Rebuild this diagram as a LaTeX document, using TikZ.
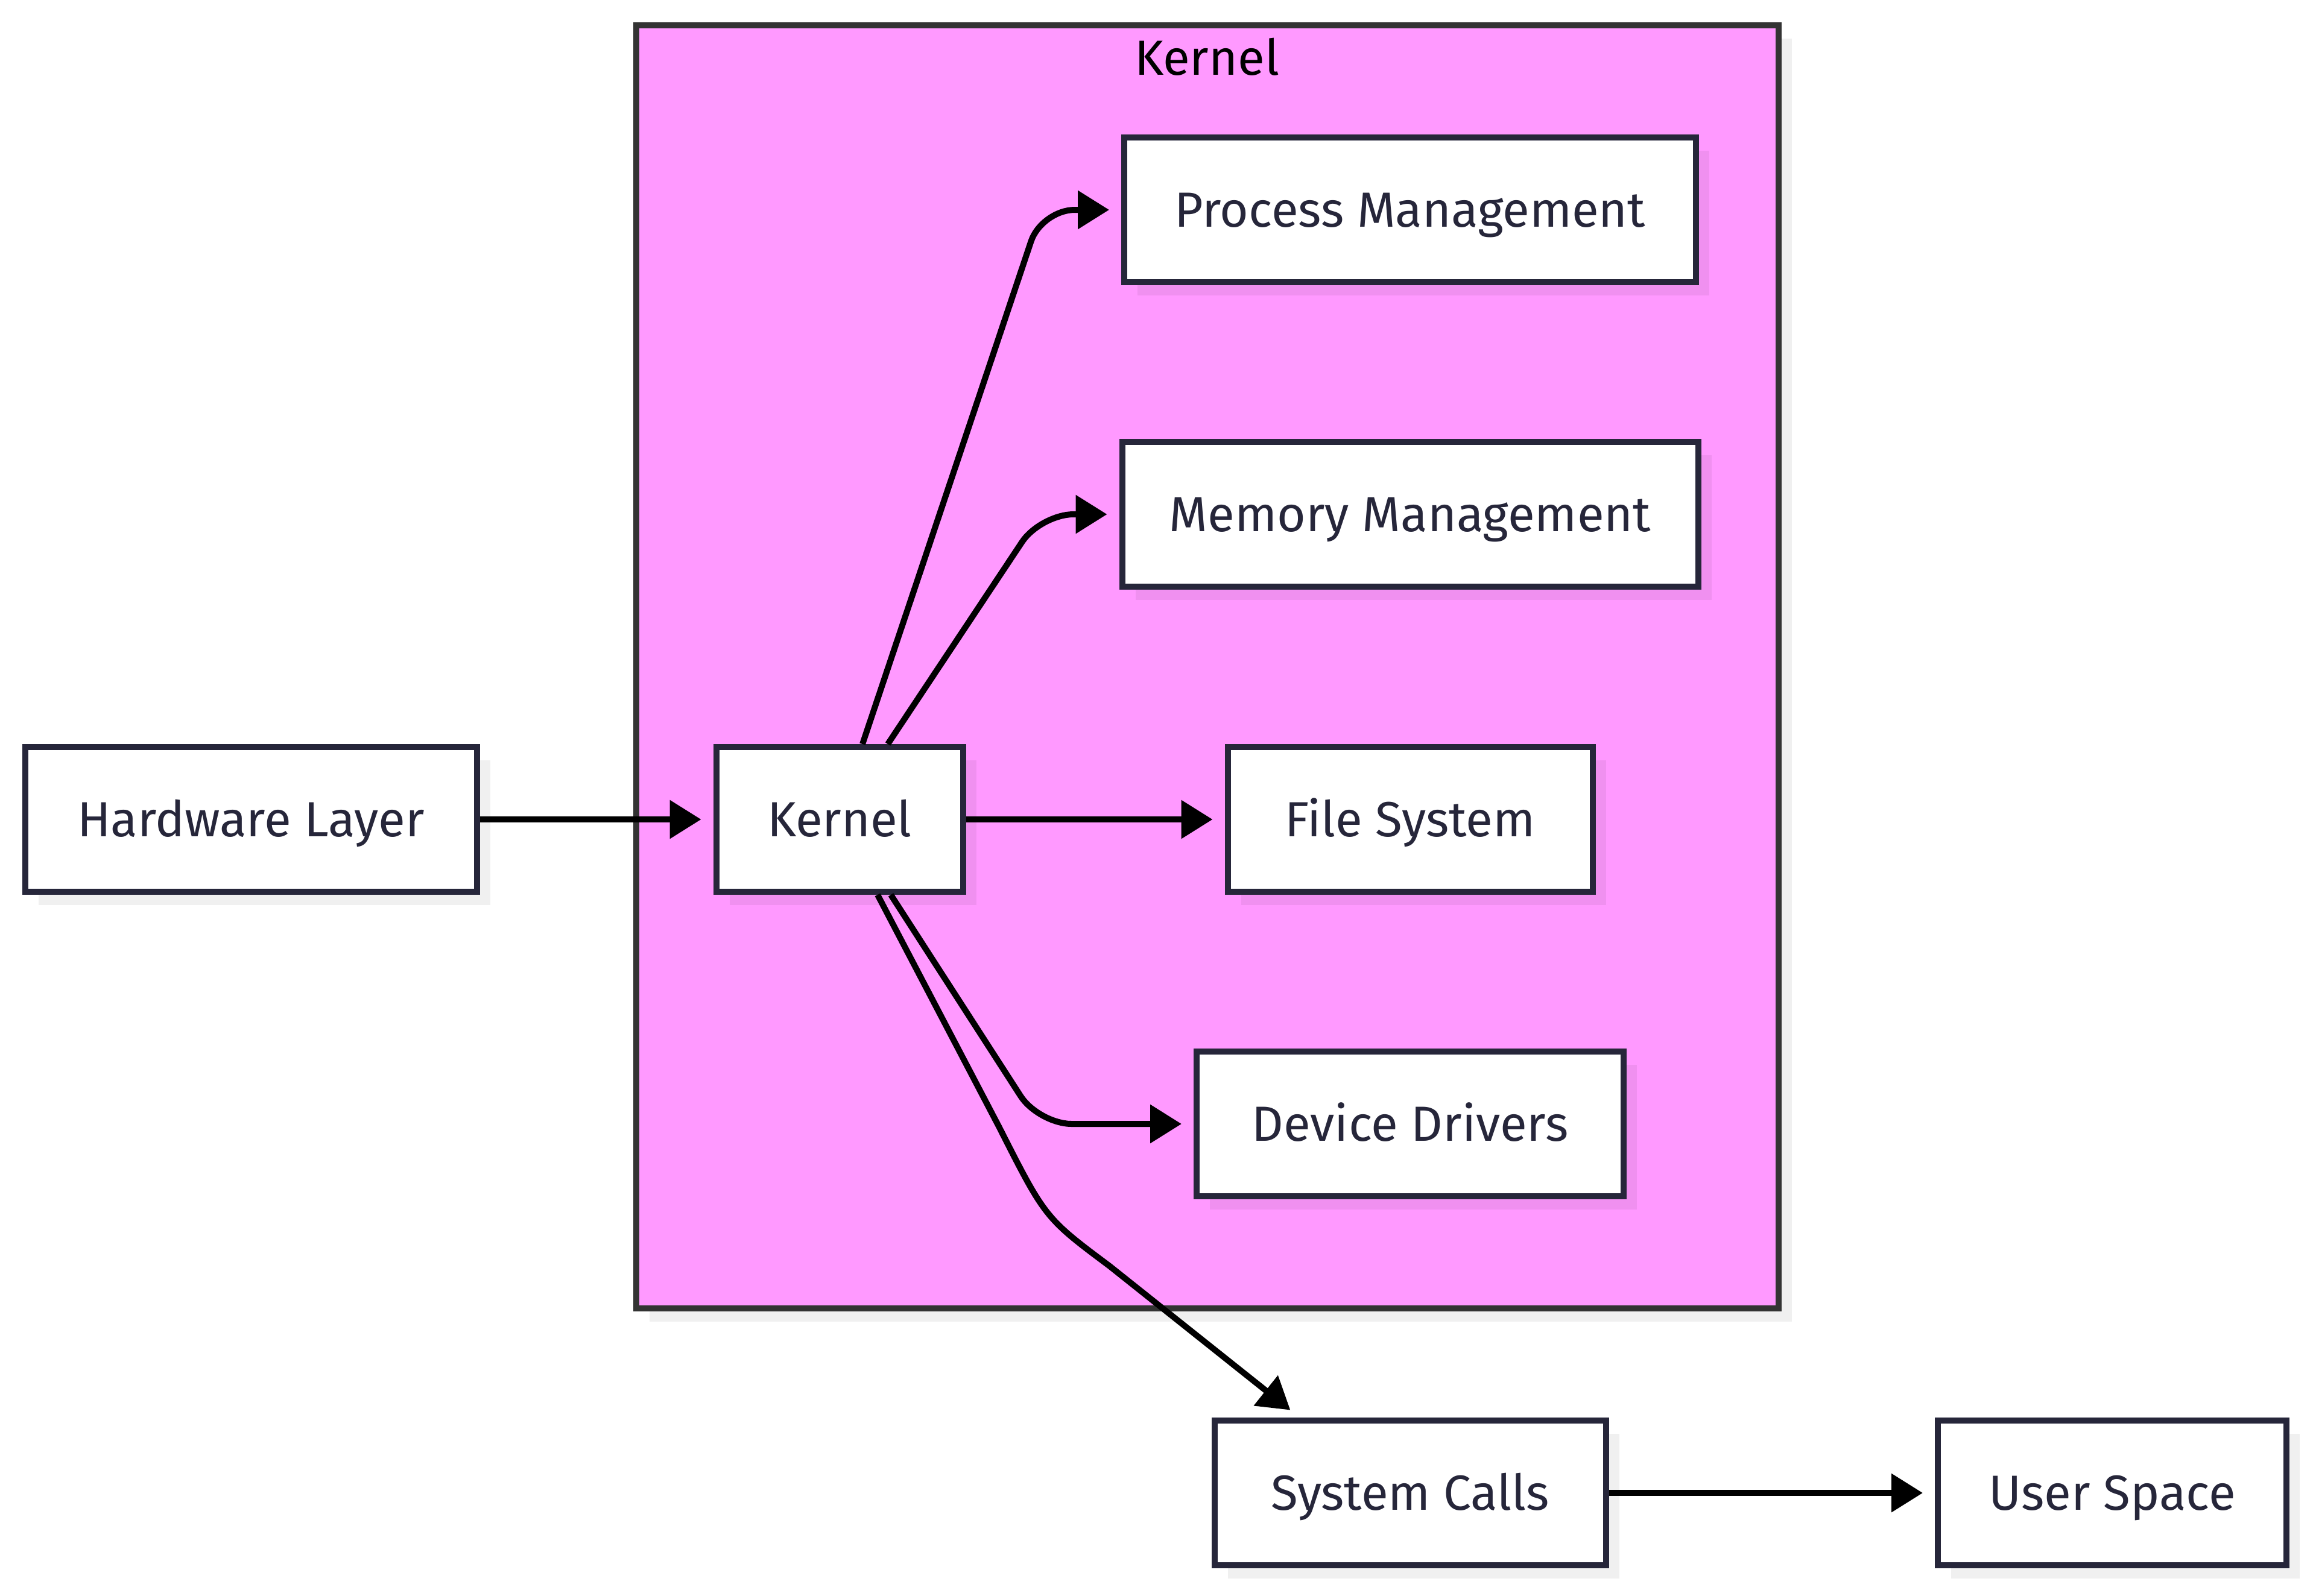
\documentclass[tikz,border=0pt]{standalone}
\usepackage{fontspec}
\setmainfont{Fira Sans}
\usepackage{tikz}
\usetikzlibrary{arrows.meta}
\usetikzlibrary{shapes}
\usetikzlibrary{shadows}
\usetikzlibrary{calc}
\definecolor{KernelPink}{HTML}{FF99FF}
\definecolor{BoxLine}{HTML}{26263A}
\definecolor{ClusterLine}{HTML}{333333}
\tikzstyle{BoxShadow}=[drop shadow={shadow xshift=2.2mm, shadow yshift=-2.2mm, fill=black, opacity=0.06}]
\tikzstyle{LayerNode}=[rectangle, draw=BoxLine, fill=white, line width=1mm, minimum height=2.4cm, text=BoxLine, font=\fontsize{23.3}{28}\selectfont, text height=22pt, text depth=5.8pt, BoxShadow]
\tikzstyle{ClusterNode}=[rectangle, draw=ClusterLine, fill=KernelPink, line width=1mm, BoxShadow]
\tikzstyle{ClusterTitle}=[text=black, font=\fontsize{23.3}{28}\selectfont, text height=22pt, text depth=5.8pt]
\tikzstyle{CallEdge}=[->, line width=1mm, shorten >=2mm]
\tikzstyle{BentEdge}=[CallEdge, rounded corners=0.55cm]
\tikzset{>={Triangle[length=5.2mm, width=6.2mm]}}

\begin{document}
\begin{tikzpicture}
\useasboundingbox (0,0) rectangle (38.40,-26.46);
\node[ClusterNode, minimum width=18.94cm, minimum height=21.28cm](KBOX) at (20.02,-11.06) {};
\node[ClusterTitle](KTITLE) at (20.01,-0.96) {Kernel};

\node[LayerNode, minimum width=7.49cm](HW) at (4.16,-13.59) {Hardware Layer};
\node[LayerNode, minimum width=4.09cm](KRN) at (13.92,-13.59) {Kernel};
\node[LayerNode, minimum width=9.48cm](PM) at (23.38,-3.48) {Process Management};
\node[LayerNode, minimum width=9.55cm](MM) at (23.38,-8.53) {Memory Management};
\node[LayerNode, minimum width=6.05cm](FS) at (23.38,-13.59) {File System};
\node[LayerNode, minimum width=7.08cm](DD) at (23.38,-18.64) {Device Drivers};
\node[LayerNode, minimum width=6.49cm](SC) at (23.38,-24.76) {System Calls};
\node[LayerNode, minimum width=5.78cm](US) at (35.02,-24.76) {User Space};

\draw[CallEdge](HW) -- (KRN);
\draw[BentEdge]([xshift=0.38cm]KRN.north) -- (17.27,-3.48) -- (PM);
\draw[BentEdge]([xshift=0.80cm]KRN.north) -- (17.25,-8.53) -- (MM);
\draw[CallEdge](KRN) -- (FS);
\draw[BentEdge]([xshift=0.85cm]KRN.south) -- (17.22,-18.64) -- (DD);
\draw[CallEdge]([xshift=0.63cm]KRN.south) -- (16.57,-18.70) .. controls (17.33,-20.20) .. (18.40,-21.00) -- ([xshift=-1.83cm]SC.north);
\draw[CallEdge](SC) -- (US);
\end{tikzpicture}
\end{document}
